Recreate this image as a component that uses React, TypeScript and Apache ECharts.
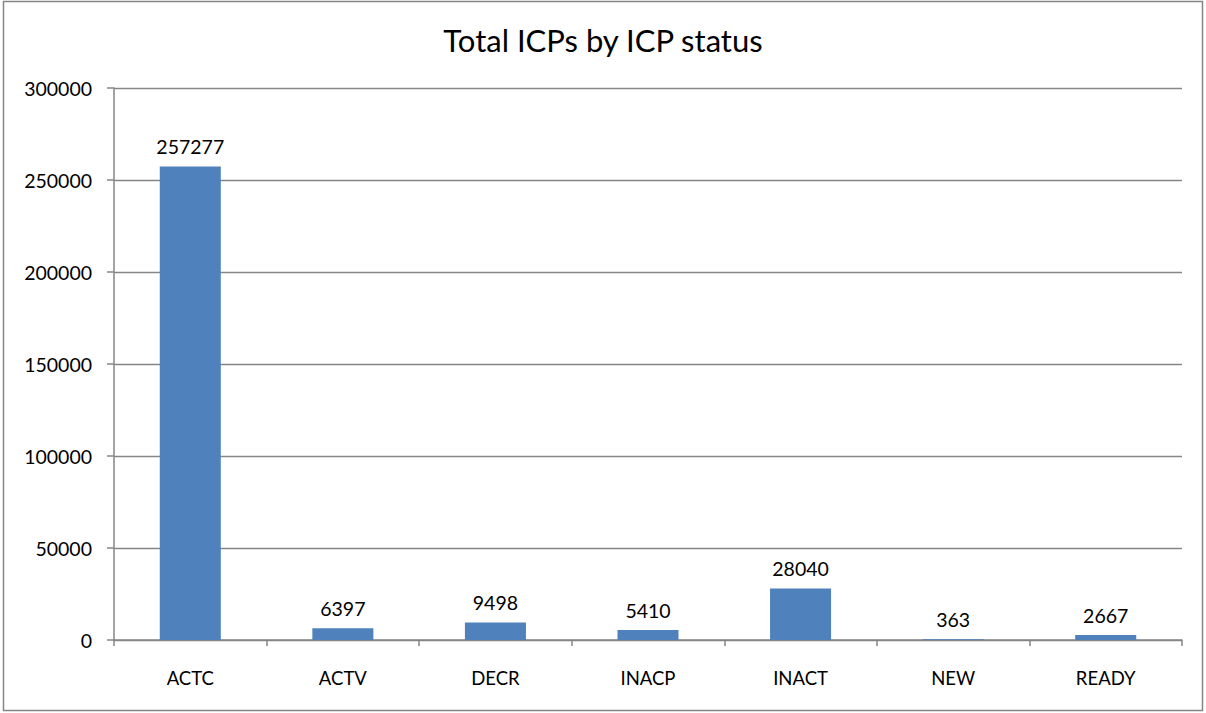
import React, { useEffect, useRef } from "react";
import * as echarts from "echarts";

const categories = ["ACTC", "ACTV", "DECR", "INACP", "INACT", "NEW", "READY"];
const totals = [257277, 6397, 9498, 5410, 28040, 363, 2667];
const chartTitle = "Total ICPs by ICP status";

const FONT = "Lato";

export default function App() {
  const ref = useRef<HTMLDivElement>(null);
  useEffect(() => {
    if (!ref.current) return;
    const chart = echarts.init(ref.current, null, { renderer: "svg" });
    chart.setOption({
      animation: false,
      backgroundColor: "#ffffff",
      textStyle: { fontFamily: FONT },
      title: {
        text: chartTitle,
        left: "center",
        top: 19,
        textStyle: { fontFamily: FONT, fontSize: 31, fontWeight: "normal", color: "#000" },
      },
      graphic: [
        {
          type: "rect",
          shape: { x: 3.5, y: 1.5, width: 1199, height: 709 },
          style: { fill: "none", stroke: "#868686", lineWidth: 1.5 },
          silent: true,
        },
      ],
      grid: { left: 114, right: 24, top: 88, bottom: 73, containLabel: false },
      xAxis: {
        type: "category",
        data: categories,
        boundaryGap: true,
        axisLine: { lineStyle: { color: "#868686", width: 1.5 } },
        axisTick: { show: true, length: 6, alignWithLabel: false, lineStyle: { color: "#868686", width: 1.5 } },
        axisLabel: { color: "#000", fontSize: 18.5, fontFamily: FONT, margin: 28 },
      },
      yAxis: {
        type: "value",
        min: 0,
        max: 300000,
        interval: 50000,
        axisLine: { show: true, lineStyle: { color: "#868686", width: 1.5 } },
        axisTick: { show: true, length: 7, lineStyle: { color: "#868686", width: 1.5 } },
        axisLabel: {
          color: "#000",
          fontSize: 19.5,
          fontFamily: FONT,
          margin: 22,
          formatter: (v: number) => String(v),
        },
        splitLine: { show: true, lineStyle: { color: "#868686", width: 1.4 } },
      },
      series: [
        {
          type: "bar",
          data: totals,
          barWidth: "40%",
          itemStyle: { color: "#4F81BD" },
          label: {
            show: true,
            position: "top",
            distance: 10,
            color: "#000",
            fontSize: 19.5,
            fontFamily: FONT,
          },
        },
      ],
    });
    return () => chart.dispose();
  }, []);
  return (
    <div
      ref={ref}
      style={{ position: "fixed", left: 0, top: 0, width: 1206, height: 713 }}
    />
  );
}
